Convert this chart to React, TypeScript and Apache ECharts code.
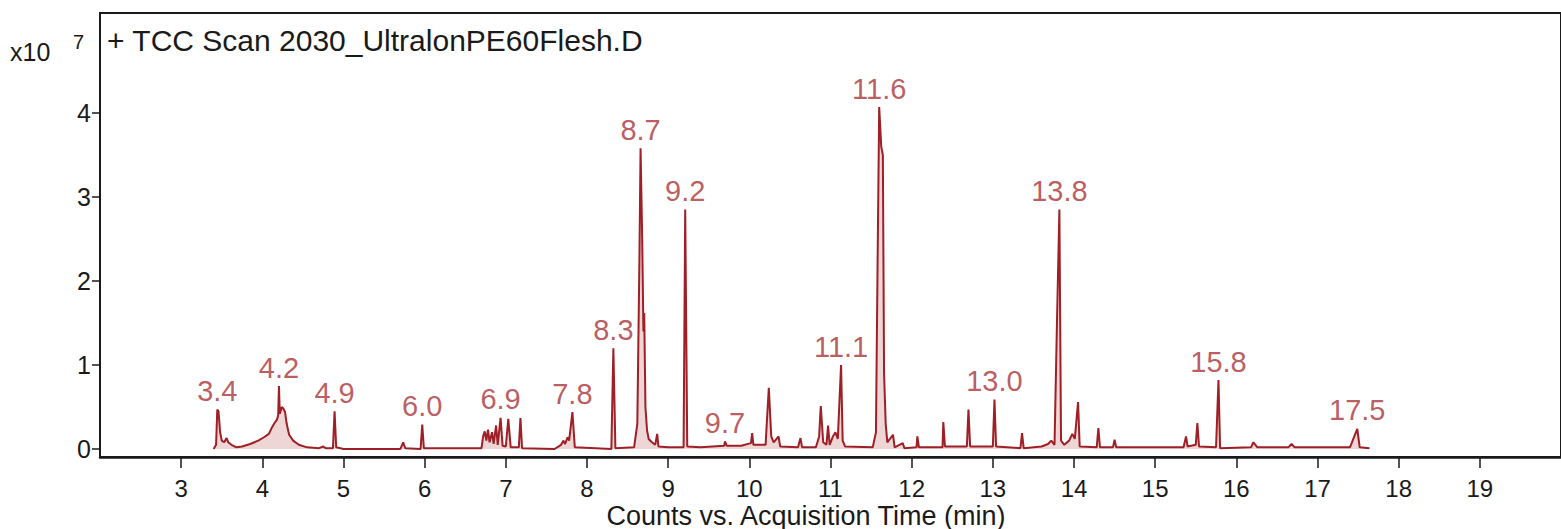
import React, { useEffect, useRef } from "react";
import * as echarts from "echarts";

// Chromatogram trace (time in min, counts in x10^7)
const traceTimes = [
  3.40, 3.43, 3.445, 3.46, 3.48, 3.50, 3.53, 3.56, 3.58, 3.62, 3.68, 3.75, 3.85, 3.95, 4.02, 4.08, 4.12, 4.15, 4.18, 4.195,
  4.205, 4.215, 4.24, 4.26, 4.28, 4.30, 4.33, 4.38, 4.45, 4.55, 4.70, 4.75, 4.78, 4.87, 4.89, 4.91, 5.00, 5.70, 5.735, 5.76,
  5.95, 5.97, 5.99, 6.70, 6.72, 6.74, 6.76, 6.78, 6.80, 6.83, 6.85, 6.88, 6.90, 6.935, 6.96, 7.00, 7.03, 7.06, 7.16, 7.18,
  7.20, 7.60, 7.68, 7.71, 7.73, 7.76, 7.78, 7.82, 7.85, 8.30, 8.325, 8.35, 8.58, 8.62, 8.645, 8.66, 8.68, 8.695, 8.705, 8.72,
  8.74, 8.76, 8.80, 8.84, 8.865, 8.88, 9.00, 9.19, 9.21, 9.235, 9.40, 9.69, 9.70, 9.72, 9.90, 10.02, 10.035, 10.05, 10.20, 10.24,
  10.27, 10.30, 10.36, 10.38, 10.60, 10.63, 10.65, 10.82, 10.86, 10.88, 10.91, 10.95, 10.97, 10.99, 11.03, 11.06, 11.09, 11.13, 11.15, 11.18,
  11.52, 11.56, 11.58, 11.60, 11.625, 11.645, 11.66, 11.68, 11.70, 11.77, 11.79, 11.89, 11.91, 12.06, 12.07, 12.09, 12.38, 12.39, 12.41, 12.68,
  12.70, 12.72, 13.00, 13.02, 13.04, 13.34, 13.36, 13.38, 13.60, 13.68, 13.72, 13.76, 13.79, 13.82, 13.84, 13.88, 13.94, 13.98, 14.01, 14.05,
  14.07, 14.28, 14.30, 14.32, 14.48, 14.50, 14.52, 15.35, 15.38, 15.40, 15.50, 15.52, 15.54, 15.75, 15.78, 15.80, 16.18, 16.21, 16.26, 16.64,
  16.68, 16.72, 17.40, 17.49, 17.52, 17.64,
];
const traceCounts = [
  0.00, 0.05, 0.47, 0.45, 0.20, 0.10, 0.08, 0.13, 0.08, 0.05, 0.02, 0.03, 0.06, 0.10, 0.14, 0.18, 0.26, 0.31, 0.35, 0.40,
  0.75, 0.42, 0.50, 0.48, 0.44, 0.30, 0.17, 0.10, 0.05, 0.02, 0.01, 0.03, 0.01, 0.01, 0.45, 0.02, 0.00, 0.00, 0.08, 0.01,
  0.00, 0.29, 0.01, 0.01, 0.15, 0.21, 0.10, 0.23, 0.08, 0.20, 0.06, 0.28, 0.05, 0.37, 0.04, 0.03, 0.36, 0.02, 0.02, 0.37,
  0.01, 0.00, 0.05, 0.10, 0.06, 0.14, 0.10, 0.44, 0.02, 0.00, 1.20, 0.01, 0.02, 0.30, 2.20, 3.58, 2.50, 1.40, 1.62, 0.50,
  0.22, 0.12, 0.08, 0.05, 0.18, 0.03, 0.02, 0.02, 2.85, 0.03, 0.02, 0.04, 0.09, 0.04, 0.04, 0.07, 0.19, 0.05, 0.05, 0.73,
  0.15, 0.08, 0.15, 0.03, 0.02, 0.13, 0.02, 0.02, 0.15, 0.51, 0.08, 0.05, 0.28, 0.05, 0.15, 0.20, 0.12, 1.00, 0.10, 0.03,
  0.02, 0.20, 2.20, 4.07, 3.60, 3.50, 0.90, 0.30, 0.08, 0.17, 0.02, 0.07, 0.01, 0.02, 0.15, 0.02, 0.02, 0.32, 0.03, 0.03,
  0.47, 0.03, 0.03, 0.59, 0.03, 0.01, 0.19, 0.01, 0.03, 0.06, 0.10, 0.05, 1.50, 2.85, 0.10, 0.05, 0.10, 0.18, 0.12, 0.56,
  0.03, 0.02, 0.25, 0.02, 0.02, 0.11, 0.02, 0.02, 0.15, 0.03, 0.05, 0.31, 0.03, 0.02, 0.82, 0.01, 0.02, 0.08, 0.02, 0.02,
  0.06, 0.02, 0.02, 0.24, 0.02, 0.01,
];

// Annotated peaks
const peakNames = ["3.4", "4.2", "4.9", "6.0", "6.9", "7.8", "8.3", "8.7", "9.2", "9.7", "11.1", "11.6", "13.0", "13.8", "15.8", "17.5"];
const peakTimes = [3.445, 4.205, 4.89, 5.97, 6.935, 7.82, 8.325, 8.66, 9.21, 9.70, 11.13, 11.60, 13.02, 13.82, 15.78, 17.49];
const peakCounts = [0.47, 0.75, 0.45, 0.29, 0.37, 0.44, 1.20, 3.58, 2.85, 0.09, 1.00, 4.07, 0.59, 2.85, 0.82, 0.24];

const yTickValues = [0, 1, 2, 3, 4];
const titleText = "+ TCC Scan 2030_UltralonPE60Flesh.D";
const xAxisTitle = "Counts vs. Acquisition Time (min)";
const yScaleText = "x10";
const yScaleExp = "7";

const FONT = "'Liberation Sans', Arial, Helvetica, sans-serif";
const INK = "#1a1a1a";

export default function App() {
  const ref = useRef<HTMLDivElement>(null);
  useEffect(() => {
    if (!ref.current) return;
    const chart = echarts.init(ref.current, null, { renderer: "svg" });
    const trace = traceTimes.map((t, i) => [t, traceCounts[i]]);
    const peaks = peakTimes.map((t, i) => ({ name: peakNames[i], value: [t, peakCounts[i]] }));
    chart.setOption({
      animation: false,
      backgroundColor: "#ffffff",
      grid: {
        left: 100,
        top: 13,
        width: 1462,
        height: 444,
        show: true,
        borderColor: INK,
        borderWidth: 2,
        containLabel: false,
      },
      xAxis: {
        type: "value",
        min: 2,
        max: 20,
        interval: 1,
        splitLine: { show: false },
        axisLine: { show: true, onZero: false, lineStyle: { color: INK, width: 2.5 } },
        axisTick: { show: true, length: 11, lineStyle: { color: INK, width: 1.5 } },
        axisLabel: {
          showMinLabel: false,
          showMaxLabel: false,
          margin: 22,
          fontSize: 24,
          lineHeight: 18,
          fontFamily: FONT,
          color: INK,
        },
      },
      yAxis: {
        type: "value",
        min: -0.095,
        max: 5.19,
        splitLine: { show: false },
        axisLine: { show: true, onZero: false, lineStyle: { color: INK, width: 2 } },
        axisTick: { show: true, length: 8, customValues: yTickValues, lineStyle: { color: INK, width: 1.5 } },
        axisLabel: {
          customValues: yTickValues,
          margin: 9,
          fontSize: 25,
          fontFamily: FONT,
          color: INK,
        },
      },
      graphic: [
        {
          type: "text",
          x: 107,
          y: 40,
          style: { text: titleText, fontSize: 30, fontFamily: FONT, fill: INK, verticalAlign: "middle" },
        },
        {
          type: "text",
          x: 10,
          y: 52,
          style: { text: yScaleText, fontSize: 25, fontFamily: FONT, fill: INK, verticalAlign: "middle" },
        },
        {
          type: "text",
          x: 73,
          y: 42,
          style: { text: yScaleExp, fontSize: 20, fontFamily: FONT, fill: INK, verticalAlign: "middle" },
        },
        {
          type: "text",
          x: 806,
          y: 515.5,
          style: {
            text: xAxisTitle,
            fontSize: 27,
            lineHeight: 22,
            fontFamily: FONT,
            fill: INK,
            align: "center",
            verticalAlign: "middle",
          },
        },
      ],
      series: [
        {
          type: "line",
          data: trace,
          symbol: "none",
          smooth: false,
          lineStyle: { color: "#9e1f25", width: 2 },
          areaStyle: { color: "rgba(180, 60, 60, 0.3)" },
          z: 2,
        },
        {
          type: "scatter",
          data: peaks,
          symbolSize: 1,
          itemStyle: { color: "rgba(0,0,0,0)" },
          label: {
            show: true,
            position: "top",
            distance: 5,
            formatter: "{b}",
            fontSize: 29,
            lineHeight: 26,
            fontFamily: FONT,
            color: "#a93338",
          },
          z: 3,
        },
      ],
    });
    return () => chart.dispose();
  }, []);
  return (
    <div
      ref={ref}
      style={{ position: "fixed", left: 0, top: 0, width: 1561, height: 529, background: "#fff" }}
    />
  );
}
